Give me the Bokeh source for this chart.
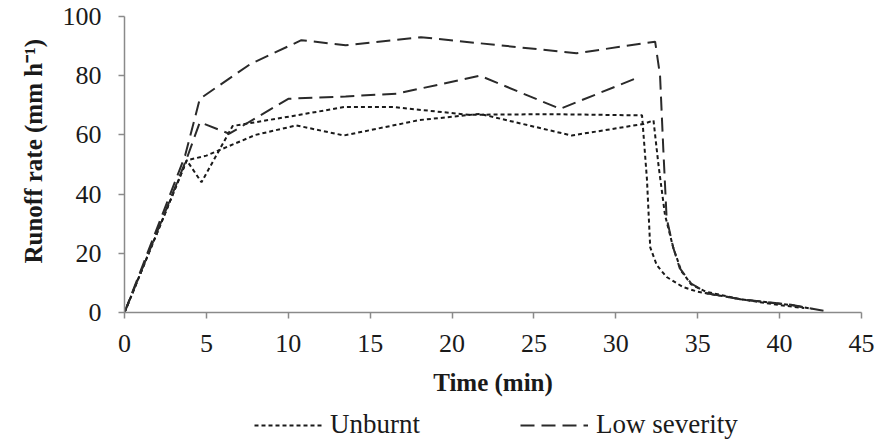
from bokeh.plotting import figure
from bokeh.layouts import column
from bokeh.models import Legend, LegendItem, Title, FixedTicker, Range1d
from bokeh.embed import file_html
from bokeh.resources import INLINE

# ---- data ----
x_ticks = [0, 5, 10, 15, 20, 25, 30, 35, 40, 45]
y_ticks = [0, 20, 40, 60, 80, 100]

unburnt_a_t = [0, 3.8, 4.7, 6.6, 10.5, 13.4, 16.4, 21.0, 26.0, 31.6, 31.9, 32.1, 32.5, 33.1, 34.1, 35.0, 37.6, 40.0, 41.5]
unburnt_a_y = [0, 51.4, 44.0, 63.0, 66.6, 69.4, 69.4, 66.8, 67.0, 66.6, 45.0, 22.0, 16.0, 12.0, 8.6, 7.0, 4.5, 2.5, 1.5]

unburnt_b_t = [0, 3.8, 5.0, 8.0, 10.5, 13.4, 18.0, 21.7, 27.3, 31.7, 32.3, 32.6, 33.0, 33.5, 34.0, 34.6, 35.5, 37.6, 40.7, 42.0]
unburnt_b_y = [0, 51.4, 53.0, 60.0, 63.2, 59.8, 65.0, 67.1, 59.8, 63.7, 64.9, 50.0, 33.0, 22.0, 14.0, 9.5, 7.0, 4.5, 2.5, 1.2]

low_a_t = [0, 3.7, 4.6, 7.7, 10.8, 13.5, 18.1, 27.6, 32.4, 32.7, 32.9, 33.1, 33.5, 33.9, 34.6, 35.6, 37.6, 40.7, 43.0]
low_a_y = [0, 53.0, 72.2, 84.0, 92.0, 90.3, 93.0, 87.6, 91.5, 80.0, 55.0, 32.0, 22.0, 15.0, 9.8, 6.4, 4.5, 2.6, 0.3]

low_b_t = [0, 3.8, 4.6, 6.4, 10.0, 13.5, 16.6, 21.7, 26.6, 31.4]
low_b_y = [0, 52.0, 64.3, 60.4, 72.2, 73.0, 73.9, 80.0, 68.8, 79.5]

legend_labels = ["Unburnt", "Low severity"]

FONT = "Liberation Serif"
AXIS_GREY = "#8a8a8a"
INK = "#1a1a1a"
DASH_INK = "#2a2a2a"
DOT = "4 3"
DASH = "14 7"
NAN = float("nan")

p = figure(width=884, height=408, output_backend="svg", toolbar_location=None,
           title=None,
           x_range=Range1d(0, 45), y_range=Range1d(0, 100),
           min_border_left=124, min_border_right=23, min_border_top=16,
           min_border_bottom=96)
p.outline_line_color = None
p.grid.visible = False
p.background_fill_color = "white"
p.border_fill_color = "white"

p.xaxis.ticker = FixedTicker(ticks=x_ticks)
p.yaxis.ticker = FixedTicker(ticks=y_ticks)

for ax in (p.xaxis[0], p.yaxis[0]):
    ax.axis_line_color = AXIS_GREY
    ax.axis_line_width = 1.5
    ax.major_tick_line_color = AXIS_GREY
    ax.major_tick_line_width = 1.5
    ax.major_tick_out = 6
    ax.major_tick_in = 0
    ax.minor_tick_line_color = None
    ax.major_label_text_font = FONT
    ax.major_label_text_font_size = "26px"
    ax.major_label_text_color = INK

p.xaxis.major_label_standoff = 16
p.yaxis.major_label_standoff = 17

p.xaxis.axis_label = "Time (min)"
p.xaxis.axis_label_text_font = FONT
p.xaxis.axis_label_text_font_size = "25px"
p.xaxis.axis_label_text_font_style = "bold"
p.xaxis.axis_label_text_color = INK
p.xaxis.axis_label_standoff = 14

ytitle = Title(text="Runoff rate (mm h\u207b\u00b9)", align="left", offset=49,
               text_font=FONT, text_font_size="25px", text_font_style="bold",
               text_color=INK, standoff=26)
p.add_layout(ytitle, "left")

p.line(unburnt_a_t, unburnt_a_y, line_color=INK, line_width=2, line_dash=DOT)
p.line(unburnt_b_t, unburnt_b_y, line_color=INK, line_width=2, line_dash=DOT)
p.line(low_a_t, low_a_y, line_color=DASH_INK, line_width=2, line_dash=DASH)
p.line(low_b_t, low_b_y, line_color=DASH_INK, line_width=2, line_dash=DASH)

# ---- legend strip below the chart (its frame is aligned with the chart's) ----
lg = figure(width=884, height=34, output_backend="svg", toolbar_location=None,
            title=None, x_range=Range1d(0, 1), y_range=Range1d(0, 1),
            x_axis_location=None, y_axis_location=None,
            min_border_left=0, min_border_right=0, min_border_top=0,
            min_border_bottom=0)
lg.outline_line_color = None
lg.grid.visible = False
lg.background_fill_color = "white"
lg.border_fill_color = "white"

# legend-key renderers only (no visible data)
k_unb = lg.line([NAN], [NAN], line_color=INK, line_width=2, line_dash=DOT)
k_low = lg.line([NAN], [NAN], line_color=DASH_INK, line_width=2, line_dash=DASH)

legend = Legend(items=[LegendItem(label=legend_labels[0], renderers=[k_unb]),
                       LegendItem(label=legend_labels[1], renderers=[k_low])],
                location=(130, 2), orientation="horizontal",
                glyph_width=68, glyph_height=26, label_height=26,
                label_standoff=8, spacing=100, padding=0, margin=0,
                border_line_color=None, background_fill_alpha=0,
                label_text_font=FONT, label_text_font_size="27px",
                label_text_color=INK)
lg.add_layout(legend)

page = column(p, lg, spacing=0)
open("out.html", "w").write(file_html(page, INLINE))
